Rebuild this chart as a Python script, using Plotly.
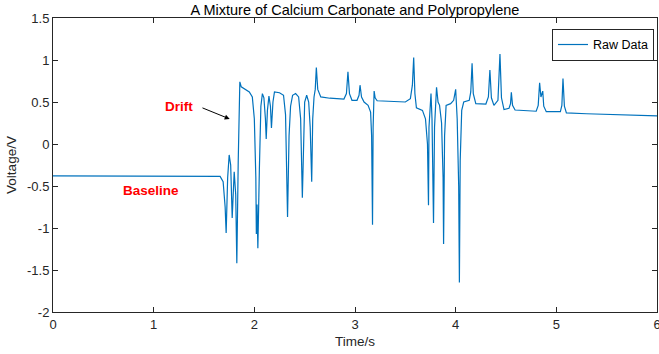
import plotly.graph_objects as go

time_s = [0, 1.60, 1.66, 1.69, 1.71, 1.72, 1.735, 1.75, 1.765, 1.78, 1.80, 1.815, 1.826, 1.84, 1.856,
          1.87, 1.90, 1.95, 1.98, 2.00, 2.015, 2.02, 2.027, 2.035, 2.05, 2.065, 2.08, 2.095, 2.11, 2.118,
          2.13, 2.145, 2.16, 2.17, 2.185, 2.20, 2.25, 2.29, 2.31, 2.32, 2.33, 2.345, 2.36, 2.38, 2.41,
          2.44, 2.46, 2.477, 2.49, 2.50, 2.52, 2.54, 2.555, 2.57, 2.58, 2.593, 2.605, 2.616, 2.63, 2.66,
          2.75, 2.89, 2.915, 2.93, 2.945, 2.97, 3.02, 3.04, 3.05, 3.065, 3.09, 3.13, 3.155, 3.165, 3.174,
          3.18, 3.19, 3.20, 3.22, 3.35, 3.50, 3.55, 3.57, 3.583, 3.595, 3.61, 3.67, 3.70, 3.72, 3.73,
          3.735, 3.755, 3.765, 3.78, 3.79, 3.81, 3.825, 3.84, 3.86, 3.875, 3.88, 3.89, 3.905, 3.95, 3.98,
          4.00, 4.015, 4.03, 4.037, 4.045, 4.06, 4.08, 4.135, 4.15, 4.163, 4.175, 4.20, 4.30, 4.325, 4.34,
          4.355, 4.38, 4.42, 4.44, 4.455, 4.48, 4.53, 4.545, 4.553, 4.565, 4.59, 4.80, 4.82, 4.834, 4.847,
          4.865, 4.875, 4.90, 5.04, 5.055, 5.066, 5.08, 5.10, 5.30, 5.60, 6.00]
voltage = [-0.38, -0.38, -0.385, -0.45, -0.75, -1.06, -0.40, -0.13, -0.25, -0.88, -0.33, -0.60, -1.42, -0.20, 0.74,
           0.68, 0.66, 0.62, 0.56, 0.30, -0.40, -1.07, -0.72, -1.24, -0.30, 0.45, 0.60, 0.55, 0.30, 0.06,
           0.40, 0.57, 0.45, 0.19, 0.50, 0.62, 0.61, 0.58, 0.35, -0.10, -0.87, 0.10, 0.45, 0.58, 0.60,
           0.56, 0.30, -0.64, 0.25, 0.50, 0.58, 0.50, 0.20, -0.45, 0.30, 0.56, 0.65, 0.91, 0.65, 0.56,
           0.545, 0.535, 0.60, 0.86, 0.60, 0.52, 0.52, 0.58, 0.70, 0.56, 0.50, 0.46, 0.38, 0.10, -0.96,
           0.20, 0.63, 0.55, 0.515, 0.51, 0.50, 0.54, 0.70, 1.03, 0.60, 0.43, 0.40, 0.30, 0.00, -0.73,
           0.20, 0.60, 0.30, -0.94, 0.20, 0.675, 0.50, 0.46, 0.25, -0.40, -1.19, 0.10, 0.46, 0.48, 0.52,
           0.65, 0.30, -0.50, -1.65, -0.20, 0.40, 0.50, 0.52, 0.62, 0.96, 0.60, 0.48, 0.476, 0.56, 0.88,
           0.55, 0.46, 0.52, 1.07, 0.55, 0.41, 0.425, 0.48, 0.615, 0.46, 0.405, 0.39, 0.46, 0.73, 0.56,
           0.63, 0.45, 0.385, 0.385, 0.46, 0.78, 0.45, 0.37, 0.36, 0.35, 0.335]

x_ticks = [0, 1, 2, 3, 4, 5, 6]
y_ticks = [-2, -1.5, -1, -0.5, 0, 0.5, 1, 1.5]
y_tick_text = ["-2", "-1.5", "-1", "-0.5", "0", "0.5", "1", "1.5"]

axis_color = "#262626"
font_family = "Liberation Sans, Arial, sans-serif"

fig = go.Figure()
fig.add_trace(go.Scatter(x=time_s, y=voltage, mode="lines", name="Raw Data",
                         line=dict(color="#0072BD", width=1.2)))

common = dict(showgrid=False, zeroline=False, showline=True, mirror="ticks", linecolor=axis_color,
              linewidth=1, ticks="inside", ticklen=5, tickcolor=axis_color, ticklabeloverflow="allow",
              tickfont=dict(family=font_family, size=13, color=axis_color))

fig.update_xaxes(range=[0, 6], tickvals=x_ticks, automargin=False,
                 title=dict(text="Time/s", font=dict(family=font_family, size=13.5, color=axis_color), standoff=5),
                 **common)
fig.update_yaxes(range=[-2, 1.5], tickvals=y_ticks, ticktext=y_tick_text, automargin=False,
                 title=dict(text="Voltage/V", font=dict(family=font_family, size=13.5, color=axis_color), standoff=7),
                 **common)

fig.add_annotation(x=1.755, y=0.298, ax=1.47, ay=0.437, axref="x", ayref="y", xref="x", yref="y",
                   showarrow=True, arrowhead=2, arrowsize=1, arrowwidth=1, arrowcolor="black", text="")
fig.add_annotation(x=1.41, y=0.45, xref="x", yref="y", text="<b>Drift</b>", showarrow=False,
                   xanchor="right", font=dict(family=font_family, size=13.5, color="red"))
fig.add_annotation(x=0.97, y=-0.55, xref="x", yref="y", text="<b>Baseline</b>", showarrow=False,
                   font=dict(family=font_family, size=13.5, color="red"))

fig.update_layout(
    width=659, height=354,
    margin=dict(l=53, r=2, t=18, b=42),
    paper_bgcolor="white", plot_bgcolor="white",
    title=dict(text="A Mixture of Calcium Carbonate and Polypropylene", x=0.5, xref="paper",
               y=1 - 10 / 354, yref="container", yanchor="middle",
               font=dict(family=font_family, size=14.5, color="black")),
    showlegend=True,
    legend=dict(x=0.995, y=0.963, xanchor="right", yanchor="top", bgcolor="white",
                bordercolor=axis_color, borderwidth=1,
                font=dict(family=font_family, size=12.5, color="black"),
                itemwidth=30, tracegroupgap=0),
)

fig.write_html("out.html")
